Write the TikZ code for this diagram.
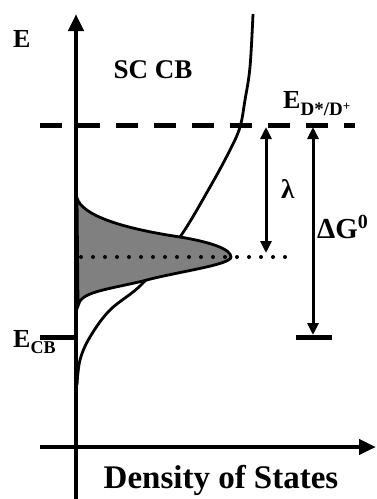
\documentclass[tikz,border=0pt]{standalone}
\usepackage{fontspec}
\setmainfont{Liberation Serif}
\usetikzlibrary{arrows.meta}

\begin{document}
\begin{tikzpicture}[
  x=1pt, y=-1pt,
  axisline/.style={line width=4.5pt, -{Triangle[width=15pt,length=17pt]}},
  gaparrow/.style={line width=3pt, {Triangle[width=11pt,length=12pt]}-{Triangle[width=11pt,length=12pt]}},
  levelline/.style={line width=5pt},
  dosline/.style={line width=2.8pt},
  dotline/.style={line width=4pt, line cap=round, dash pattern=on 0pt off 12pt},
  lbl/.style={inner sep=0pt, font=\fontsize{26}{30}\selectfont\bfseries}
]
\useasboundingbox (0,0) rectangle (376,499);

% end points of the axes and levels
\coordinate (ybot) at (76,505);
\coordinate (ytop) at (76,14);
\coordinate (xleft) at (40,447);
\coordinate (xright) at (376,447);
\coordinate (redoxl) at (40,125);
\coordinate (redoxr) at (355,125);
\coordinate (cbl) at (40,337);
\coordinate (cbr) at (76,337);
\coordinate (peakl) at (81,257);
\coordinate (peakr) at (288,257);
\coordinate (lamtop) at (266,127);
\coordinate (lambot) at (266,253);
\coordinate (dgtop) at (313,127);
\coordinate (dgbot) at (313,335);
\coordinate (dgbarl) at (296,337);
\coordinate (dgbarr) at (332,337);

% density of states of the conduction band
\draw[dosline] plot[smooth, tension=0.6] coordinates {(253,14) (250,67) (245,100) (240,127) (230,150) (210,187) (180,237) (143,283) (110,310) (90,337) (80,360) (77,385)};

% donor distribution
\draw[dosline, fill=gray] (77,198) .. controls (82,215) and (120,228) .. (180,237)
  .. controls (210,242) and (231,249) .. (231,257)
  .. controls (231,265) and (175,272) .. (143,281)
  .. controls (105,290) and (80,292) .. (78,306) -- cycle;

\draw[dotline] (peakl) -- (peakr);
\draw[levelline, dash pattern=on 22pt off 16pt] (redoxl) -- (redoxr);
\draw[levelline] (cbl) -- (cbr);
\draw[levelline] (dgbarl) -- (dgbarr);

\draw[axisline] (ybot) -- (ytop);
\draw[axisline] (xleft) -- (xright);

\draw[gaparrow] (lambot) -- (lamtop);
\draw[gaparrow] (dgbot) -- (dgtop);

% labels
\node[lbl, anchor=base west] (elabel) at (13,47) {E};
\node[lbl, font=\fontsize{27}{30}\selectfont\bfseries, anchor=base] (sccb) at (153,78) {SC CB};
\node[lbl, anchor=base west] (eredox) at (283,108)
  {E\raisebox{-7pt}{\fontsize{19}{22}\selectfont D*/D\raisebox{5pt}{\fontsize{13}{14}\selectfont +}}};
\node[lbl, font=\fontsize{27}{30}\selectfont\bfseries, anchor=base west] (lambda) at (281,198) {λ};
\node[lbl, font=\fontsize{29}{32}\selectfont\bfseries, anchor=base west] (dg) at (317,238)
  {ΔG\raisebox{10pt}{\fontsize{20}{22}\selectfont 0}};
\node[lbl, anchor=base west] (ecb) at (13,347)
  {E\raisebox{-6pt}{\fontsize{18}{20}\selectfont CB}};
\node[lbl, font=\fontsize{33}{36}\selectfont\bfseries, anchor=base] (dos) at (221,488) {Density of States};
\end{tikzpicture}
\end{document}
